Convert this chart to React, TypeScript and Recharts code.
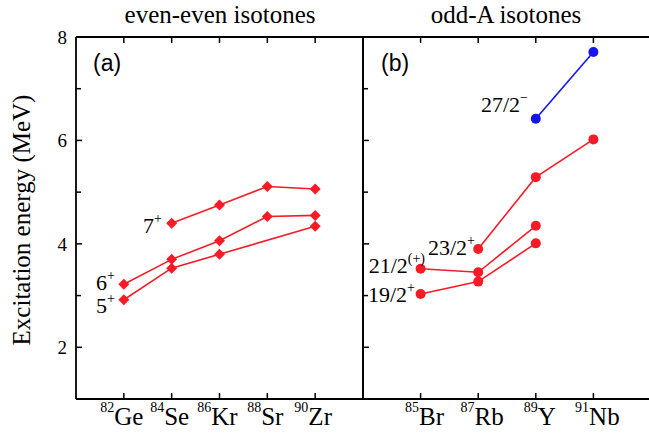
import { Line, LineChart, XAxis, YAxis } from 'recharts';

const evenNames = ['Ge', 'Se', 'Kr', 'Sr', 'Zr'];
const evenMass = [82, 84, 86, 88, 90];
const even5 = [2.92, 3.53, 3.8, null, 4.34];
const even6 = [3.22, 3.7, 4.06, 4.53, 4.55];
const even7 = [null, 4.4, 4.75, 5.11, 5.06];

const oddNames = ['Br', 'Rb', 'Y', 'Nb'];
const oddMass = [85, 87, 89, 91];
const odd19 = [3.03, 3.27, 4.01, null];
const odd21 = [3.52, 3.45, 4.35, null];
const odd23 = [null, 3.9, 5.29, 6.02];
const odd27 = [null, null, 6.42, 7.71];

const yTicks = [2, 3, 4, 5, 6, 7, 8];
const yLabels = [2, 4, 6, 8];

const RED = '#f71b27';
const BLUE = '#1414f0';
const SERIF = '"Liberation Serif", "Times New Roman", serif';
const SANS = '"Liberation Sans", Arial, sans-serif';
const AXIS = '#000';

const evenData = evenNames.map((name, i) => ({
  x: i,
  name,
  mass: evenMass[i],
  j5: even5[i],
  j6: even6[i],
  j7: even7[i],
}));

const oddData = oddNames.map((name, i) => ({
  x: i,
  name,
  mass: oddMass[i],
  j19: odd19[i],
  j21: odd21[i],
  j23: odd23[i],
  j27: odd27[i],
}));

const Diamond = (props: any) => {
  const { cx, cy, value } = props;
  if (value == null || cx == null || cy == null) return <g key={props.key} />;
  const r = 5.5;
  return (
    <polygon
      key={props.key}
      points={`${cx},${cy - r} ${cx + r},${cy} ${cx},${cy + r} ${cx - r},${cy}`}
      fill={RED}
    />
  );
};

const Dot = (color: string) => (props: any) => {
  const { cx, cy, value } = props;
  if (value == null || cx == null || cy == null) return <g key={props.key} />;
  return <circle key={props.key} cx={cx} cy={cy} r={5} fill={color} />;
};

const bottomTick = (names: string[], masses: number[], shift: number) => (props: any) => {
  const { x, y, payload } = props;
  const i = payload.value as number;
  return (
    <g>
      <line x1={x} x2={x} y1={y} y2={y - 6} stroke={AXIS} strokeWidth={1.5} />
      <text x={x + shift} y={y + 26} textAnchor="middle" fontFamily={SERIF} fill="#000">
        <tspan fontSize={14} dy={-13}>{masses[i]}</tspan>
        <tspan fontSize={25} dy={13}>{names[i]}</tspan>
      </text>
    </g>
  );
};

const topTick = (props: any) => {
  const { x, y } = props;
  return <line x1={x} x2={x} y1={y} y2={y + 6} stroke={AXIS} strokeWidth={1.5} />;
};

const leftTick = (withLabel: boolean) => (props: any) => {
  const { x, y, payload } = props;
  const major = yLabels.includes(payload.value);
  return (
    <g>
      <line x1={x} x2={x + (major ? 6 : 5)} y1={y} y2={y} stroke={AXIS} strokeWidth={1.5} />
      {withLabel && major && (
        <text x={x - 9} y={y} dy="0.35em" textAnchor="end" fontFamily={SERIF} fontSize={19} fill="#000">
          {payload.value}
        </text>
      )}
    </g>
  );
};

const rightTick = (props: any) => {
  const { x, y, payload } = props;
  const major = yLabels.includes(payload.value);
  return <line x1={x} x2={x - (major ? 6 : 5)} y1={y} y2={y} stroke={AXIS} strokeWidth={1.5} />;
};

const axisLine = { stroke: AXIS, strokeWidth: 1.8 };

export default function App() {
  return (
    <div style={{ position: 'absolute', left: 0, top: 0, width: 649, height: 434, overflow: 'hidden', background: '#fff' }}>
      <div style={{ position: 'absolute', left: 0, top: 0 }}>
        <LineChart width={364} height={434} data={evenData} margin={{ top: 36, right: 0, bottom: 34, left: 75 }}>
          <XAxis
            xAxisId="b"
            dataKey="x"
            type="number"
            domain={[-1, 5]}
            ticks={[0, 1, 2, 3, 4]}
            interval={0}
            height={1}
            tickSize={0}
            tickMargin={0}
            axisLine={axisLine}
            tickLine={false}
            tick={bottomTick(evenNames, evenMass, -2)}
          />
          <XAxis
            xAxisId="t"
            orientation="top"
            dataKey="x"
            type="number"
            domain={[-1, 5]}
            ticks={[0, 1, 2, 3, 4]}
            interval={0}
            height={1}
            tickSize={0}
            tickMargin={0}
            axisLine={axisLine}
            tickLine={false}
            tick={topTick}
          />
          <YAxis
            yAxisId="l"
            type="number"
            domain={[1, 8]}
            ticks={yTicks}
            interval={0}
            width={1}
            tickSize={0}
            tickMargin={0}
            axisLine={axisLine}
            tickLine={false}
            tick={leftTick(true)}
          />
          <YAxis
            yAxisId="r"
            orientation="right"
            type="number"
            domain={[1, 8]}
            ticks={yTicks}
            width={1}
            axisLine={axisLine}
            tickLine={false}
            tick={false}
          />
          <Line xAxisId="b" yAxisId="l" dataKey="j5" stroke={RED} strokeWidth={1.6} dot={<Diamond />} connectNulls isAnimationActive={false} />
          <Line xAxisId="b" yAxisId="l" dataKey="j6" stroke={RED} strokeWidth={1.6} dot={<Diamond />} isAnimationActive={false} />
          <Line xAxisId="b" yAxisId="l" dataKey="j7" stroke={RED} strokeWidth={1.6} dot={<Diamond />} isAnimationActive={false} />
        </LineChart>
      </div>
      <div style={{ position: 'absolute', left: 362, top: 0 }}>
        <LineChart width={290} height={434} data={oddData} margin={{ top: 36, right: 0, bottom: 34, left: 0 }}>
          <XAxis
            xAxisId="b"
            dataKey="x"
            type="number"
            domain={[-1, 4]}
            ticks={[0, 1, 2, 3]}
            interval={0}
            height={1}
            tickSize={0}
            tickMargin={0}
            axisLine={axisLine}
            tickLine={false}
            tick={bottomTick(oddNames, oddMass, 4)}
          />
          <XAxis
            xAxisId="t"
            orientation="top"
            dataKey="x"
            type="number"
            domain={[-1, 4]}
            ticks={[0, 1, 2, 3]}
            interval={0}
            height={1}
            tickSize={0}
            tickMargin={0}
            axisLine={axisLine}
            tickLine={false}
            tick={topTick}
          />
          <YAxis
            yAxisId="l"
            type="number"
            domain={[1, 8]}
            ticks={yTicks}
            interval={0}
            width={1}
            tickSize={0}
            tickMargin={0}
            axisLine={axisLine}
            tickLine={false}
            tick={leftTick(false)}
          />
          <YAxis
            yAxisId="r"
            orientation="right"
            type="number"
            domain={[1, 8]}
            ticks={yTicks}
            interval={0}
            width={1}
            tickSize={0}
            tickMargin={0}
            axisLine={axisLine}
            tickLine={false}
            tick={rightTick}
          />
          <Line xAxisId="b" yAxisId="l" dataKey="j19" stroke={RED} strokeWidth={1.6} dot={Dot(RED)} isAnimationActive={false} />
          <Line xAxisId="b" yAxisId="l" dataKey="j21" stroke={RED} strokeWidth={1.6} dot={Dot(RED)} isAnimationActive={false} />
          <Line xAxisId="b" yAxisId="l" dataKey="j23" stroke={RED} strokeWidth={1.6} dot={Dot(RED)} isAnimationActive={false} />
          <Line xAxisId="b" yAxisId="l" dataKey="j27" stroke={BLUE} strokeWidth={1.6} dot={Dot(BLUE)} isAnimationActive={false} />
        </LineChart>
      </div>
      <svg width={649} height={434} style={{ position: 'absolute', left: 0, top: 0, pointerEvents: 'none' }}>
        <g fontFamily={SERIF} fill="#000">
          <text x={220} y={23} textAnchor="middle" fontSize={25}>even-even isotones</text>
          <text x={506} y={23} textAnchor="middle" fontSize={25}>odd-A isotones</text>
          <text transform="translate(21,220) rotate(-90)" textAnchor="middle" dy="0.35em" fontSize={25}>
            Excitation energy (MeV)
          </text>
          <text x={162} y={233} textAnchor="end" fontSize={22}>7<tspan fontSize={14} dy={-10}>+</tspan></text>
          <text x={115} y={290} textAnchor="end" fontSize={22}>6<tspan fontSize={14} dy={-10}>+</tspan></text>
          <text x={115} y={313} textAnchor="end" fontSize={22}>5<tspan fontSize={14} dy={-10}>+</tspan></text>
          <text x={528} y={112} textAnchor="end" fontSize={22}>27/2<tspan fontSize={14} dy={-10}>−</tspan></text>
          <text x={475} y={255} textAnchor="end" fontSize={22}>23/2<tspan fontSize={14} dy={-10}>+</tspan></text>
          <text x={425} y={273} textAnchor="end" fontSize={22}>21/2<tspan fontSize={14} dy={-10}>(+)</tspan></text>
          <text x={415} y={302} textAnchor="end" fontSize={22}>19/2<tspan fontSize={14} dy={-10}>+</tspan></text>
        </g>
        <g fontFamily={SANS} fill="#000" fontSize={23}>
          <text x={93} y={71}>(a)</text>
          <text x={381} y={71}>(b)</text>
        </g>
      </svg>
    </div>
  );
}
